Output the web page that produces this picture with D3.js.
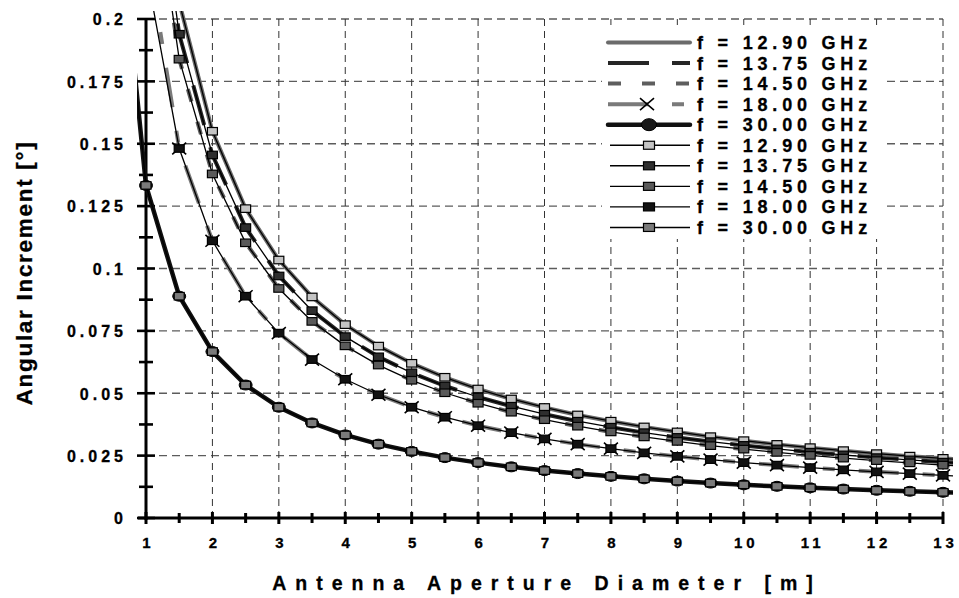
<!DOCTYPE html>
<html>
<head>
<meta charset="utf-8">
<script src="https://cdn.jsdelivr.net/npm/d3@7"></script>
<style>
  body { margin: 0; background: #fff; }
  text { font-family: 'Liberation Sans', Arial, sans-serif; font-weight: bold; fill: #000; stroke: #000; stroke-width: 0.3px; }
</style>
</head>
<body>
<svg id="chart" width="959" height="598"></svg>
<script>
// Antenna aperture diameter [m]
const diameters = [0.5, 1, 1.5, 2, 2.5, 3, 3.5, 4, 4.5, 5, 5.5, 6, 6.5, 7, 7.5, 8, 8.5, 9, 9.5, 10, 10.5, 11, 11.5, 12, 12.5, 13, 13.5];

// Angular increment [°] per frequency (thin marker curves)
const inc1290 = [0.6202, 0.3101, 0.2067, 0.1550, 0.1240, 0.1034, 0.0886, 0.0775, 0.0689, 0.0620, 0.0564, 0.0517, 0.0477, 0.0443, 0.0413, 0.0388, 0.0365, 0.0345, 0.0326, 0.0310, 0.0295, 0.0282, 0.0270, 0.0258, 0.0248, 0.0239, 0.0230];
const inc1375 = [0.5818, 0.2909, 0.1939, 0.1455, 0.1164, 0.0970, 0.0831, 0.0727, 0.0646, 0.0582, 0.0529, 0.0485, 0.0448, 0.0416, 0.0388, 0.0364, 0.0342, 0.0323, 0.0306, 0.0291, 0.0277, 0.0264, 0.0253, 0.0242, 0.0233, 0.0224, 0.0215];
const inc1450 = [0.5517, 0.2759, 0.1839, 0.1379, 0.1103, 0.0920, 0.0788, 0.0690, 0.0613, 0.0552, 0.0502, 0.0460, 0.0424, 0.0394, 0.0368, 0.0345, 0.0325, 0.0307, 0.0290, 0.0276, 0.0263, 0.0251, 0.0240, 0.0230, 0.0221, 0.0212, 0.0204];
const inc1800 = [0.4444, 0.2200, 0.1481, 0.1111, 0.0889, 0.0741, 0.0635, 0.0556, 0.0494, 0.0444, 0.0404, 0.0370, 0.0342, 0.0317, 0.0296, 0.0278, 0.0261, 0.0247, 0.0234, 0.0222, 0.0212, 0.0202, 0.0193, 0.0185, 0.0178, 0.0171, 0.0165];
const inc3000 = [0.2667, 0.1333, 0.0889, 0.0667, 0.0533, 0.0444, 0.0381, 0.0333, 0.0296, 0.0267, 0.0242, 0.0222, 0.0205, 0.0190, 0.0178, 0.0167, 0.0157, 0.0148, 0.0140, 0.0133, 0.0127, 0.0121, 0.0116, 0.0111, 0.0107, 0.0103, 0.0099];

// thick reference curves (same as above except the steeper 18 GHz start)
const ref1290 = inc1290;
const ref1375 = inc1375;
const ref1450 = inc1450;
const ref1800 = [0.4600, 0.2300, 0.1481, 0.1111, 0.0889, 0.0741, 0.0635, 0.0556, 0.0494, 0.0444, 0.0404, 0.0370, 0.0342, 0.0317, 0.0296, 0.0278, 0.0261, 0.0247, 0.0234, 0.0222, 0.0212, 0.0202, 0.0193, 0.0185, 0.0178, 0.0171, 0.0165];
const ref3000 = inc3000;

const frequencyLabels = ["f = 12.90 GHz", "f = 13.75 GHz", "f = 14.50 GHz", "f = 18.00 GHz", "f = 30.00 GHz"];

const xTickValues = [1, 2, 3, 4, 5, 6, 7, 8, 9, 10, 11, 12, 13];
const yTickValues = [0, 0.025, 0.05, 0.075, 0.1, 0.125, 0.15, 0.175, 0.2];
const yTickLabels = ["0", "0.025", "0.05", "0.075", "0.1", "0.125", "0.15", "0.175", "0.2"];

const svg = d3.select("#chart");

const x = d3.scaleLinear().domain([1, 13]).range([146, 943]);
const y = d3.scaleLinear().domain([0, 0.2]).range([518, 19]);

// plotting region for the curves (slightly wider than the axes frame)
svg.append("defs").append("clipPath").attr("id", "plotClip")
  .append("rect").attr("x", 137).attr("y", 11).attr("width", 816).attr("height", 512);

// ---- grid ----
const grid = svg.append("g");
grid.selectAll("line.h").data(yTickValues.filter(v => v > 0)).join("line")
  .attr("x1", x(1)).attr("x2", x(13))
  .attr("y1", d => y(d)).attr("y2", d => y(d))
  .attr("stroke", "#5c5c5c").attr("stroke-width", 1.4).attr("stroke-dasharray", "8,5");
grid.selectAll("line.v").data(xTickValues.filter(v => v > 1)).join("line")
  .attr("x1", d => x(d)).attr("x2", d => x(d))
  .attr("y1", y(0.2)).attr("y2", y(0))
  .attr("stroke", "#333").attr("stroke-width", 1).attr("stroke-dasharray", "7,5");

// ---- axes ----
const axes = svg.append("g");
axes.append("line").attr("x1", x(1)).attr("x2", x(1)).attr("y1", y(0.2) - 1).attr("y2", y(0) + 2)
  .attr("stroke", "#000").attr("stroke-width", 3);
axes.append("line").attr("x1", x(1) - 8).attr("x2", x(13) + 1).attr("y1", y(0)).attr("y2", y(0))
  .attr("stroke", "#000").attr("stroke-width", 3);

const yMinor = d3.range(0, 0.2001, 0.0125);
axes.selectAll("line.yt").data(yMinor).join("line")
  .attr("x1", (d, i) => x(1) - (i % 2 === 0 ? 9 : 7))
  .attr("x2", (d, i) => x(1) + (i % 2 === 0 ? 9 : 7))
  .attr("y1", d => y(d)).attr("y2", d => y(d))
  .attr("stroke", "#000").attr("stroke-width", 2.6);

const xMinor = d3.range(1, 13.001, 0.5);
axes.selectAll("line.xt").data(xMinor).join("line")
  .attr("x1", d => x(d)).attr("x2", d => x(d))
  .attr("y1", (d, i) => y(0) - (i % 2 === 0 ? 6 : 5))
  .attr("y2", (d, i) => y(0) + (i % 2 === 0 ? 6 : 5))
  .attr("stroke", "#000").attr("stroke-width", 3);

// tick labels through d3 axes
const yAxis = d3.axisLeft(y).tickValues(yTickValues).tickSize(0).tickPadding(0)
  .tickFormat((d, i) => yTickLabels[i]);
const gy = svg.append("g").attr("transform", "translate(127,0)").call(yAxis);
gy.select(".domain").remove();
gy.selectAll("text").attr("font-size", 16).attr("letter-spacing", 4).attr("dy", "0.36em")
  .style("font-family", "'Liberation Sans', Arial, sans-serif").style("font-weight", "bold").attr("fill", "#000");

const xAxis = d3.axisBottom(x).tickValues(xTickValues).tickSize(0).tickPadding(0)
  .tickFormat(d3.format("d"));
const gx = svg.append("g").attr("transform", "translate(2,536)").call(xAxis);
gx.select(".domain").remove();
gx.selectAll("text").attr("font-size", 15).attr("letter-spacing", 4).attr("dy", "0.8em")
  .style("font-family", "'Liberation Sans', Arial, sans-serif").style("font-weight", "bold").attr("fill", "#000");

// axis titles
svg.append("text").attr("x", 547).attr("y", 590).attr("text-anchor", "middle")
  .attr("font-size", 19.5).attr("letter-spacing", 9).text("Antenna Aperture Diameter [m]");
svg.append("text").attr("transform", "translate(32,273) rotate(-90)").attr("text-anchor", "middle")
  .attr("font-size", 22.5).attr("letter-spacing", 1.7).text("Angular Increment [°]");

// ---- series ----
const thinValues = [inc1290, inc1375, inc1450, inc1800, inc3000];
const thickValues = [ref1290, ref1375, ref1450, ref1800, ref3000];
const thickStyles = [
  { stroke: "#6b6b6b", width: 4, dash: null, marker: null },
  { stroke: "#262626", width: 4, dash: "41,23", marker: null },
  { stroke: "#5e5e5e", width: 4, dash: "13,21", marker: null },
  { stroke: "#7a7a7a", width: 4, dash: "40,24,12,24", marker: "x" },
  { stroke: "#111", width: 4.5, dash: null, marker: "ellipse" }
];
const thinFills = ["#c4c4c4", "#2e2e2e", "#5a5a5a", "#121212", "#7a7a7a"];

const line = d3.line().x((d, i) => x(diameters[i])).y(d => y(d));
const plot = svg.append("g").attr("clip-path", "url(#plotClip)");

function drawX(g, cx, cy, s) {
  g.append("path").attr("d", `M${cx - s},${cy - s * 0.85}L${cx + s},${cy + s * 0.85}M${cx - s},${cy + s * 0.85}L${cx + s},${cy - s * 0.85}`)
    .attr("stroke", "#000").attr("stroke-width", 1.6).attr("fill", "none");
}

thickValues.forEach((vals, k) => {
  const st = thickStyles[k];
  const g = plot.append("g");
  g.append("path").datum(vals).attr("d", line)
    .attr("fill", "none").attr("stroke", st.stroke).attr("stroke-width", st.width)
    .attr("stroke-dasharray", st.dash).attr("stroke-linejoin", "round");
  if (st.marker === "x") {
    vals.forEach((v, i) => drawX(g, x(diameters[i]), y(v), 7));
  } else if (st.marker === "ellipse") {
    g.selectAll("ellipse").data(vals).join("ellipse")
      .attr("cx", (d, i) => x(diameters[i])).attr("cy", d => y(d))
      .attr("rx", 6.5).attr("ry", 5).attr("fill", "#1a1a1a").attr("stroke", "#000");
  }
});

thinValues.forEach((vals, k) => {
  const g = plot.append("g");
  g.append("path").datum(vals).attr("d", line)
    .attr("fill", "none").attr("stroke", "#000").attr("stroke-width", 1.3);
  g.selectAll("rect").data(vals).join("rect")
    .attr("x", (d, i) => x(diameters[i]) - 5).attr("y", d => y(d) - 3.75)
    .attr("width", 10).attr("height", 7.5)
    .attr("fill", thinFills[k]).attr("stroke", "#000").attr("stroke-width", 1.2);
});

// ---- legend ----
const legend = svg.append("g");
legend.append("rect").attr("x", 602).attr("y", 25).attr("width", 281).attr("height", 214).attr("fill", "#fff");
const lx0 = 608, lx1 = 690, lmid = 649, ltext = 697;
const rowY = i => 42.5 + i * 20.55;
const legendRows = frequencyLabels.map((label, k) => ({ label, kind: "thick", k }))
  .concat(frequencyLabels.map((label, k) => ({ label, kind: "thin", k })));

legendRows.forEach((row, i) => {
  const cy = rowY(i);
  const g = legend.append("g");
  if (row.kind === "thick") {
    const st = thickStyles[row.k];
    g.append("line").attr("x1", lx0).attr("x2", lx1).attr("y1", cy).attr("y2", cy)
      .attr("stroke", st.stroke).attr("stroke-width", st.width)
      .attr("stroke-dasharray", st.dash)
      .attr("stroke-linecap", st.dash ? "butt" : "round");
    if (st.marker === "x") drawX(g, lmid - 2, cy, 7);
    if (st.marker === "ellipse") g.append("ellipse").attr("cx", lmid).attr("cy", cy)
      .attr("rx", 7.5).attr("ry", 6).attr("fill", "#1a1a1a").attr("stroke", "#000");
  } else {
    g.append("line").attr("x1", lx0 + 2).attr("x2", lx1).attr("y1", cy).attr("y2", cy)
      .attr("stroke", "#000").attr("stroke-width", 1.4);
    g.append("rect").attr("x", lmid - 5.5).attr("y", cy - 4).attr("width", 11).attr("height", 8)
      .attr("fill", thinFills[row.k]).attr("stroke", "#000").attr("stroke-width", 1.2);
  }
  g.append("text").attr("x", ltext).attr("y", cy + 6.5)
    .attr("font-size", 18).attr("letter-spacing", 4.8).text(row.label);
});
</script>
</body>
</html>
